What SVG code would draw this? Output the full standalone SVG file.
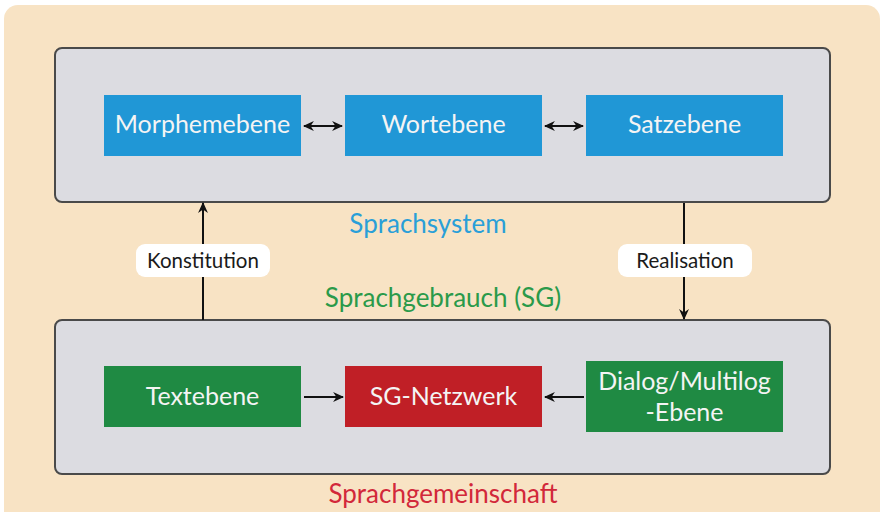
<svg xmlns="http://www.w3.org/2000/svg" width="882" height="512" viewBox="0 0 882 512">
  <defs>
    <marker id="arr" viewBox="0 0 10 10" refX="9" refY="5" markerWidth="11" markerHeight="11" markerUnits="userSpaceOnUse" orient="auto-start-reverse">
      <path d="M0,0.5 L10,5 L0,9.5 L3,5 Z" fill="#111"/>
    </marker>
  </defs>
  <style>
    .layer { fill: #dcdce1; stroke: #4a4a4a; stroke-width: 2; }
    .node text, .lbl text { font-family: Lato, "Open Sans", sans-serif; text-anchor: middle; }
    .node text { fill: #f4f4f4; font-size: 25px; }
    .blue rect { fill: #2097d6; }
    .green rect { fill: #1f8a43; }
    .red rect { fill: #c01f26; }
    .title { font-family: Lato, "Open Sans", sans-serif; font-size: 26px; text-anchor: middle; }
    .conn line { stroke: #111; stroke-width: 2; fill: none; }
    .lbl rect { fill: #ffffff; }
    .lbl text { fill: #1a1a1a; font-size: 20.5px; }
  </style>

  <!-- backdrop -->
  <rect x="4" y="5" width="876" height="520" rx="14" fill="#f8e3c4"/>

  <!-- language system layer -->
  <g id="sprachsystem">
    <rect class="layer" x="55" y="48" width="775" height="154" rx="7"/>
    <text class="title" x="428" y="233" fill="#2a9fd8">Sprachsystem</text>
  </g>

  <!-- language community layer -->
  <g id="sprachgemeinschaft">
    <rect class="layer" x="55" y="320" width="775" height="154" rx="7"/>
    <text class="title" x="443" y="503" fill="#d2283a">Sprachgemeinschaft</text>
  </g>

  <text id="sprachgebrauch" class="title" x="443" y="307" fill="#2a9a4a">Sprachgebrauch (SG)</text>

  <g id="morphemebene" class="node blue">
    <rect x="104" y="95" width="197" height="61"/>
    <text x="202.5" y="133">Morphemebene</text>
  </g>
  <g id="wortebene" class="node blue">
    <rect x="345" y="95" width="197" height="61"/>
    <text x="443.5" y="133">Wortebene</text>
  </g>
  <g id="satzebene" class="node blue">
    <rect x="586" y="95" width="197" height="61"/>
    <text x="684.5" y="133">Satzebene</text>
  </g>

  <g id="textebene" class="node green">
    <rect x="104" y="366" width="197" height="61"/>
    <text x="202.5" y="405">Textebene</text>
  </g>
  <g id="sg-netzwerk" class="node red">
    <rect x="345" y="366" width="197" height="61"/>
    <text x="443.5" y="405">SG-Netzwerk</text>
  </g>
  <g id="dialog" class="node green">
    <rect x="586" y="361" width="197" height="71"/>
    <text x="684.5" y="390">Dialog/Multilog</text>
    <text x="684.5" y="421">-Ebene</text>
  </g>

  <g id="connectors" class="conn">
    <line x1="304" y1="126" x2="342" y2="126" marker-start="url(#arr)" marker-end="url(#arr)"/>
    <line x1="545" y1="126" x2="583" y2="126" marker-start="url(#arr)" marker-end="url(#arr)"/>
    <line x1="304" y1="397" x2="343" y2="397" marker-end="url(#arr)"/>
    <line x1="584" y1="397" x2="545" y2="397" marker-end="url(#arr)"/>
    <line x1="203" y1="320" x2="203" y2="203" marker-end="url(#arr)"/>
    <line x1="684" y1="203" x2="684" y2="319" marker-end="url(#arr)"/>
  </g>

  <g id="label-konstitution" class="lbl">
    <rect x="136" y="244" width="134" height="33" rx="9"/>
    <text x="203" y="268">Konstitution</text>
  </g>
  <g id="label-realisation" class="lbl">
    <rect x="618" y="244" width="134" height="33" rx="9"/>
    <text x="685" y="268">Realisation</text>
  </g>
</svg>
